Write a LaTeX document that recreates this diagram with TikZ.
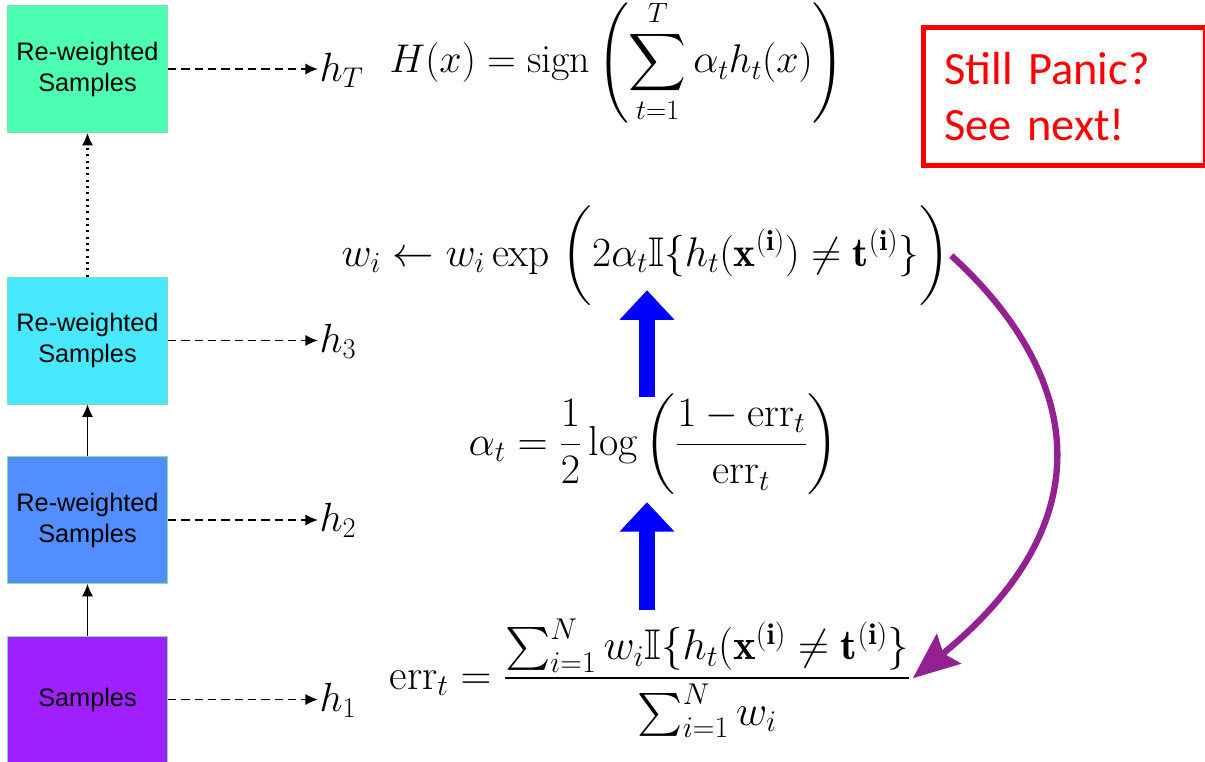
\RequirePackage{fix-cm}
\documentclass[tikz,border=0pt]{standalone}
\usepackage{amsmath}
\usepackage{amssymb}
\usepackage{fontspec}
\newfontfamily\arialfont{Liberation Sans}
\newfontfamily\calibrifont{Carlito}
\usetikzlibrary{arrows.meta}

\definecolor{samplegreen}{RGB}{77,255,179}
\definecolor{samplecyan}{RGB}{72,232,255}
\definecolor{sampleblue}{RGB}{82,142,255}
\definecolor{sampleviolet}{RGB}{160,32,255}
\definecolor{boxedge}{RGB}{130,225,170}
\definecolor{loopcolor}{RGB}{148,33,146}

\newcommand{\mathsize}[1]{\fontsize{#1}{1.2\dimexpr#1pt\relax}\selectfont}

\tikzset{
    sbox/.style={draw=boxedge, thin, minimum width=4cm, minimum height=3.175cm,
        align=center, font=\arialfont\fontsize{18}{22}\selectfont},
    hlabel/.style={anchor=base west, inner sep=1pt, font=\mathsize{29}},
    formula/.style={anchor=base west, inner sep=1pt},
    steparrow/.style={line width=1.2pt, -{Latex[length=9pt,width=8pt]}},
    dasharrow/.style={line width=1.2pt, dash pattern=on 6pt off 3.5pt,
        -{Latex[length=9pt,width=8pt]}},
    bigup/.style={draw=blue, line width=11.4pt, -{Triangle[width=37.7pt,length=21pt]}},
    looparrow/.style={draw=loopcolor, line width=4.5pt,
        -{Stealth[length=33pt,width=27pt,inset=5pt]}},
    panic/.style={draw=red, line width=3.5pt, text=red, anchor=north west,
        minimum width=7.05cm, minimum height=3.45cm, text width=6cm,
        inner xsep=0.525cm, align=left, font=\calibrifont\fontsize{33}{40}\selectfont}
}

\begin{document}
\begin{tikzpicture}[x=0.025cm, y=-0.025cm]

    \useasboundingbox (0,0) rectangle (1205,762);

    % Sample boxes
    \node[sbox, fill=sampleviolet] (b1) at (87.5,699.5) {Samples};
    \node[sbox, fill=sampleblue] (b2) at (87.5,520) {Re-weighted\\Samples};
    \node[sbox, fill=samplecyan] (b3) at (87.5,340.5) {Re-weighted\\Samples};
    \node[sbox, fill=samplegreen] (bT) at (87.5,69) {Re-weighted\\Samples};

    % Weak learners
    \node[hlabel] (h1) at (318,711) {$h_1$};
    \node[hlabel] (h2) at (318,531) {$h_2$};
    \node[hlabel] (h3) at (318,352) {$h_3$};
    \node[hlabel] (hT) at (318,81) {$h_T$};

    % Arrows between boxes
    \draw[steparrow] (b1) -- (b2);
    \draw[steparrow] (b2) -- (b3);
    \draw[steparrow, line width=1.5pt, dash pattern=on 1.5pt off 3pt] (b3) -- (bT);

    \foreach \b/\h in {b1/h1, b2/h2, b3/h3, bT/hT}
        \draw[dasharrow] (\b.east) -- (\b.east -| \h.west);

    % Formulas
    \node[formula, font=\mathsize{28.5}] (H) at (388,73)
        {$\displaystyle H(x) = \operatorname{sign}\left(\sum_{t=1}^{T}\alpha_t h_t(x)\right)$};

    \node[formula, font=\mathsize{29.5}] (w) at (340,266)
        {$w_i \leftarrow w_i \exp\;\biggl(2\alpha_t\mathbb{I}\{h_t(\mathbf{x}^{(\mathbf{i})}) \neq \mathbf{t}^{(\mathbf{i})}\}\biggr)$};

    \node[formula, font=\mathsize{29.8}] (alpha) at (467,455)
        {$\displaystyle \alpha_t = \frac{1}{2}\log\left(\frac{1-\mathrm{err}_t}{\mathrm{err}_t}\right)$};

    \node[formula, font=\mathsize{30.5}] (err) at (388,689)
        {$\displaystyle \mathrm{err}_t = \frac{\sum_{i=1}^{N} w_i\mathbb{I}\{h_t(\mathbf{x}^{(\mathbf{i})} \neq \mathbf{t}^{(\mathbf{i})}\}}{\sum_{i=1}^{N} w_i}$};

    % Update arrows
    \coordinate (mid) at (647,0);
    \draw[bigup, shorten <=5pt, shorten >=4pt] (err.north -| mid) -- (alpha.south -| mid);
    \draw[bigup, shorten <=-3pt, shorten >=-12pt] (alpha.north -| mid) -- (w.south -| mid);

    \draw[looparrow] (w.east) .. controls +(110,100) and +(212,-173) .. (err.east);

    % Note
    \node[panic] (panic) at (921,25) {Still Panic?\\See next!};

\end{tikzpicture}
\end{document}
